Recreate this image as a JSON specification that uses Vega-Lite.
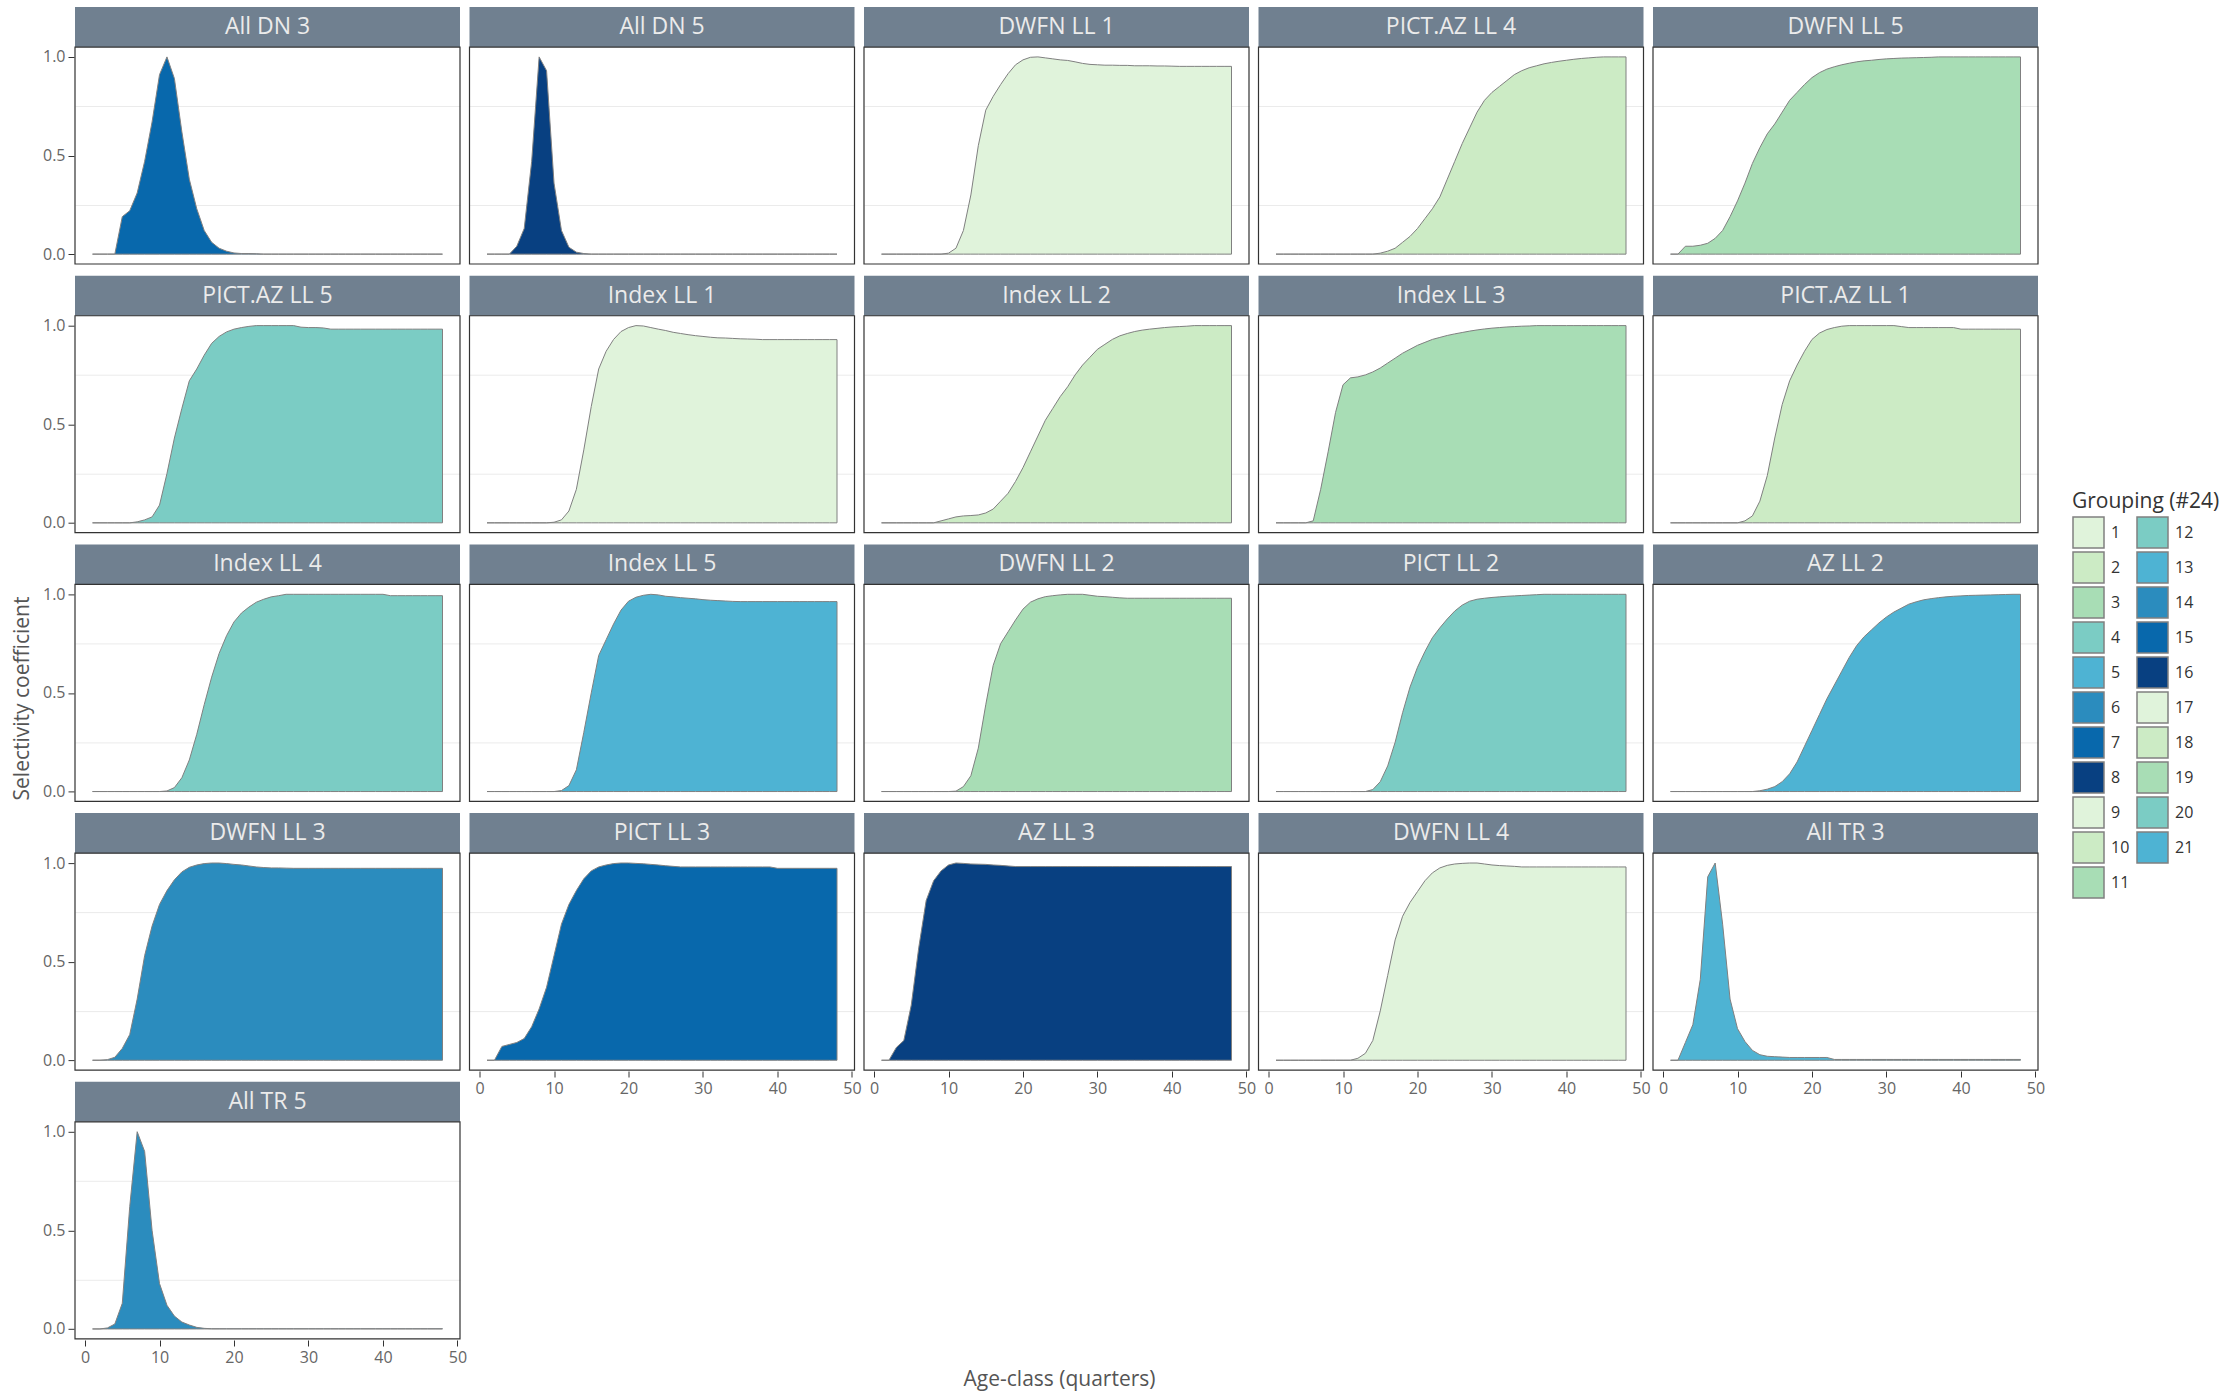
{
"$schema": "https://vega.github.io/schema/vega-lite/v6.json",
"background": "white",
"padding": {"left": 11, "top": 7, "right": 0, "bottom": 4},
"config": {"view": {"stroke": null}, "font": "Open Sans",
  "header": {"labels": false, "title": null, "labelFontSize": 0, "labelPadding": 0},
  "headerFacet": {"labels": false, "title": null, "labelFontSize": 0, "labelPadding": 0},
  "axis": {"labelFont": "Open Sans", "titleFont": "Open Sans", "labelFontSize": 16, "titleFontSize": 21, "titleFontWeight": "normal", "labelColor": "#666666", "titleColor": "#555555", "domain": false, "tickSize": 6, "tickWidth": 1, "labelPadding": 3, "gridWidth": 1}},
"title": {"text": "Selectivity coefficient", "orient": "left", "anchor": "middle", "font": "Open Sans", "fontSize": 21, "fontWeight": "normal", "color": "#555555", "offset": 10},
"datasets": {"panels": [
{"p":1,"panel":"All DN 3","group":"7"},{"p":2,"panel":"All DN 5","group":"8"},{"p":3,"panel":"DWFN LL 1","group":"1"},{"p":4,"panel":"PICT.AZ LL 4","group":"2"},{"p":5,"panel":"DWFN LL 5","group":"3"},
{"p":6,"panel":"PICT.AZ LL 5","group":"4"},{"p":7,"panel":"Index LL 1","group":"9"},{"p":8,"panel":"Index LL 2","group":"10"},{"p":9,"panel":"Index LL 3","group":"11"},{"p":10,"panel":"PICT.AZ LL 1","group":"18"},
{"p":11,"panel":"Index LL 4","group":"12"},{"p":12,"panel":"Index LL 5","group":"5"},{"p":13,"panel":"DWFN LL 2","group":"19"},{"p":14,"panel":"PICT LL 2","group":"20"},{"p":15,"panel":"AZ LL 2","group":"13"},
{"p":16,"panel":"DWFN LL 3","group":"6"},{"p":17,"panel":"PICT LL 3","group":"15"},{"p":18,"panel":"AZ LL 3","group":"16"},{"p":19,"panel":"DWFN LL 4","group":"17"},{"p":20,"panel":"All TR 3","group":"21"},
{"p":21,"panel":"All TR 5","group":"14"}]},
"data": {"values": [
{"p":1,"a":1,"s":0},{"p":1,"a":2,"s":0},{"p":1,"a":3,"s":0},{"p":1,"a":4,"s":0},{"p":1,"a":5,"s":0.19},{"p":1,"a":6,"s":0.22},{"p":1,"a":7,"s":0.31},{"p":1,"a":8,"s":0.47},{"p":1,"a":9,"s":0.67},{"p":1,"a":10,"s":0.91},{"p":1,"a":11,"s":1},{"p":1,"a":12,"s":0.89},{"p":1,"a":13,"s":0.62},{"p":1,"a":14,"s":0.38},{"p":1,"a":15,"s":0.23},{"p":1,"a":16,"s":0.12},{"p":1,"a":17,"s":0.06},{"p":1,"a":18,"s":0.03},{"p":1,"a":19,"s":0.015},{"p":1,"a":20,"s":0.006},{"p":1,"a":21,"s":0.003},{"p":1,"a":22,"s":0.003},{"p":1,"a":23,"s":0.002},{"p":1,"a":24,"s":0},{"p":1,"a":25,"s":0},{"p":1,"a":26,"s":0},{"p":1,"a":27,"s":0},{"p":1,"a":28,"s":0},{"p":1,"a":29,"s":0},{"p":1,"a":30,"s":0},{"p":1,"a":31,"s":0},{"p":1,"a":32,"s":0},{"p":1,"a":33,"s":0},{"p":1,"a":34,"s":0},{"p":1,"a":35,"s":0},{"p":1,"a":36,"s":0},{"p":1,"a":37,"s":0},{"p":1,"a":38,"s":0},{"p":1,"a":39,"s":0},{"p":1,"a":40,"s":0},{"p":1,"a":41,"s":0},{"p":1,"a":42,"s":0},{"p":1,"a":43,"s":0},{"p":1,"a":44,"s":0},{"p":1,"a":45,"s":0},{"p":1,"a":46,"s":0},{"p":1,"a":47,"s":0},{"p":1,"a":48,"s":0},
{"p":2,"a":1,"s":0},{"p":2,"a":2,"s":0},{"p":2,"a":3,"s":0},{"p":2,"a":4,"s":0},{"p":2,"a":5,"s":0.04},{"p":2,"a":6,"s":0.13},{"p":2,"a":7,"s":0.47},{"p":2,"a":8,"s":1},{"p":2,"a":9,"s":0.93},{"p":2,"a":10,"s":0.36},{"p":2,"a":11,"s":0.12},{"p":2,"a":12,"s":0.035},{"p":2,"a":13,"s":0.01},{"p":2,"a":14,"s":0.003},{"p":2,"a":15,"s":0},{"p":2,"a":16,"s":0},{"p":2,"a":17,"s":0},{"p":2,"a":18,"s":0},{"p":2,"a":19,"s":0},{"p":2,"a":20,"s":0},{"p":2,"a":21,"s":0},{"p":2,"a":22,"s":0},{"p":2,"a":23,"s":0},{"p":2,"a":24,"s":0},{"p":2,"a":25,"s":0},{"p":2,"a":26,"s":0},{"p":2,"a":27,"s":0},{"p":2,"a":28,"s":0},{"p":2,"a":29,"s":0},{"p":2,"a":30,"s":0},{"p":2,"a":31,"s":0},{"p":2,"a":32,"s":0},{"p":2,"a":33,"s":0},{"p":2,"a":34,"s":0},{"p":2,"a":35,"s":0},{"p":2,"a":36,"s":0},{"p":2,"a":37,"s":0},{"p":2,"a":38,"s":0},{"p":2,"a":39,"s":0},{"p":2,"a":40,"s":0},{"p":2,"a":41,"s":0},{"p":2,"a":42,"s":0},{"p":2,"a":43,"s":0},{"p":2,"a":44,"s":0},{"p":2,"a":45,"s":0},{"p":2,"a":46,"s":0},{"p":2,"a":47,"s":0},{"p":2,"a":48,"s":0},
{"p":3,"a":1,"s":0},{"p":3,"a":2,"s":0},{"p":3,"a":3,"s":0},{"p":3,"a":4,"s":0},{"p":3,"a":5,"s":0},{"p":3,"a":6,"s":0},{"p":3,"a":7,"s":0},{"p":3,"a":8,"s":0},{"p":3,"a":9,"s":0},{"p":3,"a":10,"s":0.005},{"p":3,"a":11,"s":0.03},{"p":3,"a":12,"s":0.12},{"p":3,"a":13,"s":0.3},{"p":3,"a":14,"s":0.55},{"p":3,"a":15,"s":0.73},{"p":3,"a":16,"s":0.8},{"p":3,"a":17,"s":0.86},{"p":3,"a":18,"s":0.915},{"p":3,"a":19,"s":0.96},{"p":3,"a":20,"s":0.985},{"p":3,"a":21,"s":0.998},{"p":3,"a":22,"s":1},{"p":3,"a":23,"s":0.995},{"p":3,"a":24,"s":0.99},{"p":3,"a":25,"s":0.985},{"p":3,"a":26,"s":0.982},{"p":3,"a":27,"s":0.975},{"p":3,"a":28,"s":0.967},{"p":3,"a":29,"s":0.962},{"p":3,"a":30,"s":0.96},{"p":3,"a":31,"s":0.958},{"p":3,"a":32,"s":0.958},{"p":3,"a":33,"s":0.957},{"p":3,"a":34,"s":0.957},{"p":3,"a":35,"s":0.955},{"p":3,"a":36,"s":0.955},{"p":3,"a":37,"s":0.955},{"p":3,"a":38,"s":0.954},{"p":3,"a":39,"s":0.954},{"p":3,"a":40,"s":0.953},{"p":3,"a":41,"s":0.952},{"p":3,"a":42,"s":0.952},{"p":3,"a":43,"s":0.952},{"p":3,"a":44,"s":0.952},{"p":3,"a":45,"s":0.952},{"p":3,"a":46,"s":0.952},{"p":3,"a":47,"s":0.952},{"p":3,"a":48,"s":0.952},
{"p":4,"a":1,"s":0},{"p":4,"a":2,"s":0},{"p":4,"a":3,"s":0},{"p":4,"a":4,"s":0},{"p":4,"a":5,"s":0},{"p":4,"a":6,"s":0},{"p":4,"a":7,"s":0},{"p":4,"a":8,"s":0},{"p":4,"a":9,"s":0},{"p":4,"a":10,"s":0},{"p":4,"a":11,"s":0},{"p":4,"a":12,"s":0},{"p":4,"a":13,"s":0},{"p":4,"a":14,"s":0},{"p":4,"a":15,"s":0.005},{"p":4,"a":16,"s":0.015},{"p":4,"a":17,"s":0.03},{"p":4,"a":18,"s":0.06},{"p":4,"a":19,"s":0.09},{"p":4,"a":20,"s":0.13},{"p":4,"a":21,"s":0.18},{"p":4,"a":22,"s":0.23},{"p":4,"a":23,"s":0.29},{"p":4,"a":24,"s":0.38},{"p":4,"a":25,"s":0.47},{"p":4,"a":26,"s":0.56},{"p":4,"a":27,"s":0.64},{"p":4,"a":28,"s":0.72},{"p":4,"a":29,"s":0.78},{"p":4,"a":30,"s":0.82},{"p":4,"a":31,"s":0.85},{"p":4,"a":32,"s":0.88},{"p":4,"a":33,"s":0.91},{"p":4,"a":34,"s":0.93},{"p":4,"a":35,"s":0.945},{"p":4,"a":36,"s":0.955},{"p":4,"a":37,"s":0.965},{"p":4,"a":38,"s":0.972},{"p":4,"a":39,"s":0.978},{"p":4,"a":40,"s":0.983},{"p":4,"a":41,"s":0.988},{"p":4,"a":42,"s":0.992},{"p":4,"a":43,"s":0.995},{"p":4,"a":44,"s":0.998},{"p":4,"a":45,"s":1},{"p":4,"a":46,"s":1},{"p":4,"a":47,"s":1},{"p":4,"a":48,"s":1},
{"p":5,"a":1,"s":0},{"p":5,"a":2,"s":0},{"p":5,"a":3,"s":0.04},{"p":5,"a":4,"s":0.04},{"p":5,"a":5,"s":0.045},{"p":5,"a":6,"s":0.055},{"p":5,"a":7,"s":0.08},{"p":5,"a":8,"s":0.12},{"p":5,"a":9,"s":0.19},{"p":5,"a":10,"s":0.27},{"p":5,"a":11,"s":0.36},{"p":5,"a":12,"s":0.46},{"p":5,"a":13,"s":0.54},{"p":5,"a":14,"s":0.61},{"p":5,"a":15,"s":0.66},{"p":5,"a":16,"s":0.72},{"p":5,"a":17,"s":0.78},{"p":5,"a":18,"s":0.82},{"p":5,"a":19,"s":0.86},{"p":5,"a":20,"s":0.895},{"p":5,"a":21,"s":0.92},{"p":5,"a":22,"s":0.938},{"p":5,"a":23,"s":0.95},{"p":5,"a":24,"s":0.96},{"p":5,"a":25,"s":0.968},{"p":5,"a":26,"s":0.975},{"p":5,"a":27,"s":0.98},{"p":5,"a":28,"s":0.983},{"p":5,"a":29,"s":0.987},{"p":5,"a":30,"s":0.99},{"p":5,"a":31,"s":0.992},{"p":5,"a":32,"s":0.994},{"p":5,"a":33,"s":0.995},{"p":5,"a":34,"s":0.996},{"p":5,"a":35,"s":0.997},{"p":5,"a":36,"s":0.998},{"p":5,"a":37,"s":1},{"p":5,"a":38,"s":1},{"p":5,"a":39,"s":1},{"p":5,"a":40,"s":1},{"p":5,"a":41,"s":1},{"p":5,"a":42,"s":1},{"p":5,"a":43,"s":1},{"p":5,"a":44,"s":1},{"p":5,"a":45,"s":1},{"p":5,"a":46,"s":1},{"p":5,"a":47,"s":1},{"p":5,"a":48,"s":1},
{"p":6,"a":1,"s":0},{"p":6,"a":2,"s":0},{"p":6,"a":3,"s":0},{"p":6,"a":4,"s":0},{"p":6,"a":5,"s":0},{"p":6,"a":6,"s":0},{"p":6,"a":7,"s":0.005},{"p":6,"a":8,"s":0.015},{"p":6,"a":9,"s":0.03},{"p":6,"a":10,"s":0.09},{"p":6,"a":11,"s":0.25},{"p":6,"a":12,"s":0.43},{"p":6,"a":13,"s":0.58},{"p":6,"a":14,"s":0.72},{"p":6,"a":15,"s":0.78},{"p":6,"a":16,"s":0.85},{"p":6,"a":17,"s":0.91},{"p":6,"a":18,"s":0.945},{"p":6,"a":19,"s":0.968},{"p":6,"a":20,"s":0.982},{"p":6,"a":21,"s":0.99},{"p":6,"a":22,"s":0.996},{"p":6,"a":23,"s":1},{"p":6,"a":24,"s":1},{"p":6,"a":25,"s":1},{"p":6,"a":26,"s":1},{"p":6,"a":27,"s":1},{"p":6,"a":28,"s":1},{"p":6,"a":29,"s":0.992},{"p":6,"a":30,"s":0.99},{"p":6,"a":31,"s":0.99},{"p":6,"a":32,"s":0.988},{"p":6,"a":33,"s":0.982},{"p":6,"a":34,"s":0.982},{"p":6,"a":35,"s":0.982},{"p":6,"a":36,"s":0.982},{"p":6,"a":37,"s":0.982},{"p":6,"a":38,"s":0.982},{"p":6,"a":39,"s":0.982},{"p":6,"a":40,"s":0.982},{"p":6,"a":41,"s":0.982},{"p":6,"a":42,"s":0.982},{"p":6,"a":43,"s":0.982},{"p":6,"a":44,"s":0.982},{"p":6,"a":45,"s":0.982},{"p":6,"a":46,"s":0.982},{"p":6,"a":47,"s":0.982},{"p":6,"a":48,"s":0.982},
{"p":7,"a":1,"s":0},{"p":7,"a":2,"s":0},{"p":7,"a":3,"s":0},{"p":7,"a":4,"s":0},{"p":7,"a":5,"s":0},{"p":7,"a":6,"s":0},{"p":7,"a":7,"s":0},{"p":7,"a":8,"s":0},{"p":7,"a":9,"s":0},{"p":7,"a":10,"s":0.003},{"p":7,"a":11,"s":0.015},{"p":7,"a":12,"s":0.06},{"p":7,"a":13,"s":0.17},{"p":7,"a":14,"s":0.37},{"p":7,"a":15,"s":0.59},{"p":7,"a":16,"s":0.78},{"p":7,"a":17,"s":0.87},{"p":7,"a":18,"s":0.93},{"p":7,"a":19,"s":0.97},{"p":7,"a":20,"s":0.99},{"p":7,"a":21,"s":1},{"p":7,"a":22,"s":0.998},{"p":7,"a":23,"s":0.99},{"p":7,"a":24,"s":0.982},{"p":7,"a":25,"s":0.975},{"p":7,"a":26,"s":0.966},{"p":7,"a":27,"s":0.96},{"p":7,"a":28,"s":0.954},{"p":7,"a":29,"s":0.949},{"p":7,"a":30,"s":0.945},{"p":7,"a":31,"s":0.941},{"p":7,"a":32,"s":0.938},{"p":7,"a":33,"s":0.937},{"p":7,"a":34,"s":0.935},{"p":7,"a":35,"s":0.933},{"p":7,"a":36,"s":0.932},{"p":7,"a":37,"s":0.931},{"p":7,"a":38,"s":0.929},{"p":7,"a":39,"s":0.929},{"p":7,"a":40,"s":0.929},{"p":7,"a":41,"s":0.929},{"p":7,"a":42,"s":0.929},{"p":7,"a":43,"s":0.929},{"p":7,"a":44,"s":0.929},{"p":7,"a":45,"s":0.929},{"p":7,"a":46,"s":0.929},{"p":7,"a":47,"s":0.929},{"p":7,"a":48,"s":0.929},
{"p":8,"a":1,"s":0},{"p":8,"a":2,"s":0},{"p":8,"a":3,"s":0},{"p":8,"a":4,"s":0},{"p":8,"a":5,"s":0},{"p":8,"a":6,"s":0},{"p":8,"a":7,"s":0},{"p":8,"a":8,"s":0},{"p":8,"a":9,"s":0.01},{"p":8,"a":10,"s":0.02},{"p":8,"a":11,"s":0.03},{"p":8,"a":12,"s":0.035},{"p":8,"a":13,"s":0.037},{"p":8,"a":14,"s":0.04},{"p":8,"a":15,"s":0.05},{"p":8,"a":16,"s":0.07},{"p":8,"a":17,"s":0.11},{"p":8,"a":18,"s":0.15},{"p":8,"a":19,"s":0.21},{"p":8,"a":20,"s":0.28},{"p":8,"a":21,"s":0.36},{"p":8,"a":22,"s":0.44},{"p":8,"a":23,"s":0.52},{"p":8,"a":24,"s":0.58},{"p":8,"a":25,"s":0.64},{"p":8,"a":26,"s":0.69},{"p":8,"a":27,"s":0.75},{"p":8,"a":28,"s":0.8},{"p":8,"a":29,"s":0.84},{"p":8,"a":30,"s":0.88},{"p":8,"a":31,"s":0.905},{"p":8,"a":32,"s":0.93},{"p":8,"a":33,"s":0.948},{"p":8,"a":34,"s":0.96},{"p":8,"a":35,"s":0.97},{"p":8,"a":36,"s":0.977},{"p":8,"a":37,"s":0.982},{"p":8,"a":38,"s":0.986},{"p":8,"a":39,"s":0.99},{"p":8,"a":40,"s":0.993},{"p":8,"a":41,"s":0.995},{"p":8,"a":42,"s":0.997},{"p":8,"a":43,"s":1},{"p":8,"a":44,"s":1},{"p":8,"a":45,"s":1},{"p":8,"a":46,"s":1},{"p":8,"a":47,"s":1},{"p":8,"a":48,"s":1},
{"p":9,"a":1,"s":0},{"p":9,"a":2,"s":0},{"p":9,"a":3,"s":0},{"p":9,"a":4,"s":0},{"p":9,"a":5,"s":0},{"p":9,"a":6,"s":0.01},{"p":9,"a":7,"s":0.17},{"p":9,"a":8,"s":0.36},{"p":9,"a":9,"s":0.56},{"p":9,"a":10,"s":0.7},{"p":9,"a":11,"s":0.735},{"p":9,"a":12,"s":0.74},{"p":9,"a":13,"s":0.75},{"p":9,"a":14,"s":0.765},{"p":9,"a":15,"s":0.785},{"p":9,"a":16,"s":0.81},{"p":9,"a":17,"s":0.835},{"p":9,"a":18,"s":0.86},{"p":9,"a":19,"s":0.88},{"p":9,"a":20,"s":0.9},{"p":9,"a":21,"s":0.915},{"p":9,"a":22,"s":0.93},{"p":9,"a":23,"s":0.94},{"p":9,"a":24,"s":0.95},{"p":9,"a":25,"s":0.958},{"p":9,"a":26,"s":0.965},{"p":9,"a":27,"s":0.972},{"p":9,"a":28,"s":0.978},{"p":9,"a":29,"s":0.983},{"p":9,"a":30,"s":0.987},{"p":9,"a":31,"s":0.99},{"p":9,"a":32,"s":0.993},{"p":9,"a":33,"s":0.995},{"p":9,"a":34,"s":0.997},{"p":9,"a":35,"s":0.998},{"p":9,"a":36,"s":1},{"p":9,"a":37,"s":1},{"p":9,"a":38,"s":1},{"p":9,"a":39,"s":1},{"p":9,"a":40,"s":1},{"p":9,"a":41,"s":1},{"p":9,"a":42,"s":1},{"p":9,"a":43,"s":1},{"p":9,"a":44,"s":1},{"p":9,"a":45,"s":1},{"p":9,"a":46,"s":1},{"p":9,"a":47,"s":1},{"p":9,"a":48,"s":1},
{"p":10,"a":1,"s":0},{"p":10,"a":2,"s":0},{"p":10,"a":3,"s":0},{"p":10,"a":4,"s":0},{"p":10,"a":5,"s":0},{"p":10,"a":6,"s":0},{"p":10,"a":7,"s":0},{"p":10,"a":8,"s":0},{"p":10,"a":9,"s":0},{"p":10,"a":10,"s":0},{"p":10,"a":11,"s":0.01},{"p":10,"a":12,"s":0.035},{"p":10,"a":13,"s":0.11},{"p":10,"a":14,"s":0.24},{"p":10,"a":15,"s":0.43},{"p":10,"a":16,"s":0.6},{"p":10,"a":17,"s":0.72},{"p":10,"a":18,"s":0.8},{"p":10,"a":19,"s":0.87},{"p":10,"a":20,"s":0.93},{"p":10,"a":21,"s":0.962},{"p":10,"a":22,"s":0.98},{"p":10,"a":23,"s":0.99},{"p":10,"a":24,"s":0.997},{"p":10,"a":25,"s":1},{"p":10,"a":26,"s":1},{"p":10,"a":27,"s":1},{"p":10,"a":28,"s":1},{"p":10,"a":29,"s":1},{"p":10,"a":30,"s":1},{"p":10,"a":31,"s":1},{"p":10,"a":32,"s":0.995},{"p":10,"a":33,"s":0.99},{"p":10,"a":34,"s":0.99},{"p":10,"a":35,"s":0.99},{"p":10,"a":36,"s":0.99},{"p":10,"a":37,"s":0.99},{"p":10,"a":38,"s":0.99},{"p":10,"a":39,"s":0.99},{"p":10,"a":40,"s":0.982},{"p":10,"a":41,"s":0.982},{"p":10,"a":42,"s":0.982},{"p":10,"a":43,"s":0.982},{"p":10,"a":44,"s":0.982},{"p":10,"a":45,"s":0.982},{"p":10,"a":46,"s":0.982},{"p":10,"a":47,"s":0.982},{"p":10,"a":48,"s":0.982},
{"p":11,"a":1,"s":0},{"p":11,"a":2,"s":0},{"p":11,"a":3,"s":0},{"p":11,"a":4,"s":0},{"p":11,"a":5,"s":0},{"p":11,"a":6,"s":0},{"p":11,"a":7,"s":0},{"p":11,"a":8,"s":0},{"p":11,"a":9,"s":0},{"p":11,"a":10,"s":0},{"p":11,"a":11,"s":0.003},{"p":11,"a":12,"s":0.02},{"p":11,"a":13,"s":0.07},{"p":11,"a":14,"s":0.16},{"p":11,"a":15,"s":0.29},{"p":11,"a":16,"s":0.44},{"p":11,"a":17,"s":0.58},{"p":11,"a":18,"s":0.7},{"p":11,"a":19,"s":0.79},{"p":11,"a":20,"s":0.86},{"p":11,"a":21,"s":0.905},{"p":11,"a":22,"s":0.935},{"p":11,"a":23,"s":0.96},{"p":11,"a":24,"s":0.975},{"p":11,"a":25,"s":0.987},{"p":11,"a":26,"s":0.993},{"p":11,"a":27,"s":1},{"p":11,"a":28,"s":1},{"p":11,"a":29,"s":1},{"p":11,"a":30,"s":1},{"p":11,"a":31,"s":1},{"p":11,"a":32,"s":1},{"p":11,"a":33,"s":1},{"p":11,"a":34,"s":1},{"p":11,"a":35,"s":1},{"p":11,"a":36,"s":1},{"p":11,"a":37,"s":1},{"p":11,"a":38,"s":1},{"p":11,"a":39,"s":1},{"p":11,"a":40,"s":1},{"p":11,"a":41,"s":0.993},{"p":11,"a":42,"s":0.993},{"p":11,"a":43,"s":0.993},{"p":11,"a":44,"s":0.993},{"p":11,"a":45,"s":0.993},{"p":11,"a":46,"s":0.993},{"p":11,"a":47,"s":0.993},{"p":11,"a":48,"s":0.993},
{"p":12,"a":1,"s":0},{"p":12,"a":2,"s":0},{"p":12,"a":3,"s":0},{"p":12,"a":4,"s":0},{"p":12,"a":5,"s":0},{"p":12,"a":6,"s":0},{"p":12,"a":7,"s":0},{"p":12,"a":8,"s":0},{"p":12,"a":9,"s":0},{"p":12,"a":10,"s":0},{"p":12,"a":11,"s":0.005},{"p":12,"a":12,"s":0.03},{"p":12,"a":13,"s":0.11},{"p":12,"a":14,"s":0.3},{"p":12,"a":15,"s":0.5},{"p":12,"a":16,"s":0.69},{"p":12,"a":17,"s":0.77},{"p":12,"a":18,"s":0.85},{"p":12,"a":19,"s":0.92},{"p":12,"a":20,"s":0.965},{"p":12,"a":21,"s":0.985},{"p":12,"a":22,"s":0.995},{"p":12,"a":23,"s":1},{"p":12,"a":24,"s":0.997},{"p":12,"a":25,"s":0.99},{"p":12,"a":26,"s":0.987},{"p":12,"a":27,"s":0.983},{"p":12,"a":28,"s":0.98},{"p":12,"a":29,"s":0.977},{"p":12,"a":30,"s":0.973},{"p":12,"a":31,"s":0.97},{"p":12,"a":32,"s":0.968},{"p":12,"a":33,"s":0.966},{"p":12,"a":34,"s":0.964},{"p":12,"a":35,"s":0.963},{"p":12,"a":36,"s":0.963},{"p":12,"a":37,"s":0.963},{"p":12,"a":38,"s":0.963},{"p":12,"a":39,"s":0.963},{"p":12,"a":40,"s":0.963},{"p":12,"a":41,"s":0.963},{"p":12,"a":42,"s":0.963},{"p":12,"a":43,"s":0.963},{"p":12,"a":44,"s":0.963},{"p":12,"a":45,"s":0.963},{"p":12,"a":46,"s":0.963},{"p":12,"a":47,"s":0.963},{"p":12,"a":48,"s":0.963},
{"p":13,"a":1,"s":0},{"p":13,"a":2,"s":0},{"p":13,"a":3,"s":0},{"p":13,"a":4,"s":0},{"p":13,"a":5,"s":0},{"p":13,"a":6,"s":0},{"p":13,"a":7,"s":0},{"p":13,"a":8,"s":0},{"p":13,"a":9,"s":0},{"p":13,"a":10,"s":0},{"p":13,"a":11,"s":0.002},{"p":13,"a":12,"s":0.025},{"p":13,"a":13,"s":0.08},{"p":13,"a":14,"s":0.22},{"p":13,"a":15,"s":0.44},{"p":13,"a":16,"s":0.64},{"p":13,"a":17,"s":0.75},{"p":13,"a":18,"s":0.81},{"p":13,"a":19,"s":0.87},{"p":13,"a":20,"s":0.925},{"p":13,"a":21,"s":0.96},{"p":13,"a":22,"s":0.977},{"p":13,"a":23,"s":0.988},{"p":13,"a":24,"s":0.993},{"p":13,"a":25,"s":0.997},{"p":13,"a":26,"s":1},{"p":13,"a":27,"s":1},{"p":13,"a":28,"s":1},{"p":13,"a":29,"s":0.995},{"p":13,"a":30,"s":0.99},{"p":13,"a":31,"s":0.988},{"p":13,"a":32,"s":0.985},{"p":13,"a":33,"s":0.982},{"p":13,"a":34,"s":0.98},{"p":13,"a":35,"s":0.98},{"p":13,"a":36,"s":0.98},{"p":13,"a":37,"s":0.98},{"p":13,"a":38,"s":0.98},{"p":13,"a":39,"s":0.98},{"p":13,"a":40,"s":0.98},{"p":13,"a":41,"s":0.98},{"p":13,"a":42,"s":0.98},{"p":13,"a":43,"s":0.98},{"p":13,"a":44,"s":0.98},{"p":13,"a":45,"s":0.98},{"p":13,"a":46,"s":0.98},{"p":13,"a":47,"s":0.98},{"p":13,"a":48,"s":0.98},
{"p":14,"a":1,"s":0},{"p":14,"a":2,"s":0},{"p":14,"a":3,"s":0},{"p":14,"a":4,"s":0},{"p":14,"a":5,"s":0},{"p":14,"a":6,"s":0},{"p":14,"a":7,"s":0},{"p":14,"a":8,"s":0},{"p":14,"a":9,"s":0},{"p":14,"a":10,"s":0},{"p":14,"a":11,"s":0},{"p":14,"a":12,"s":0},{"p":14,"a":13,"s":0},{"p":14,"a":14,"s":0.01},{"p":14,"a":15,"s":0.05},{"p":14,"a":16,"s":0.13},{"p":14,"a":17,"s":0.25},{"p":14,"a":18,"s":0.4},{"p":14,"a":19,"s":0.53},{"p":14,"a":20,"s":0.63},{"p":14,"a":21,"s":0.71},{"p":14,"a":22,"s":0.78},{"p":14,"a":23,"s":0.83},{"p":14,"a":24,"s":0.875},{"p":14,"a":25,"s":0.915},{"p":14,"a":26,"s":0.945},{"p":14,"a":27,"s":0.965},{"p":14,"a":28,"s":0.975},{"p":14,"a":29,"s":0.98},{"p":14,"a":30,"s":0.984},{"p":14,"a":31,"s":0.987},{"p":14,"a":32,"s":0.99},{"p":14,"a":33,"s":0.992},{"p":14,"a":34,"s":0.994},{"p":14,"a":35,"s":0.996},{"p":14,"a":36,"s":0.998},{"p":14,"a":37,"s":1},{"p":14,"a":38,"s":1},{"p":14,"a":39,"s":1},{"p":14,"a":40,"s":1},{"p":14,"a":41,"s":1},{"p":14,"a":42,"s":1},{"p":14,"a":43,"s":1},{"p":14,"a":44,"s":1},{"p":14,"a":45,"s":1},{"p":14,"a":46,"s":1},{"p":14,"a":47,"s":1},{"p":14,"a":48,"s":1},
{"p":15,"a":1,"s":0},{"p":15,"a":2,"s":0},{"p":15,"a":3,"s":0},{"p":15,"a":4,"s":0},{"p":15,"a":5,"s":0},{"p":15,"a":6,"s":0},{"p":15,"a":7,"s":0},{"p":15,"a":8,"s":0},{"p":15,"a":9,"s":0},{"p":15,"a":10,"s":0},{"p":15,"a":11,"s":0},{"p":15,"a":12,"s":0},{"p":15,"a":13,"s":0.004},{"p":15,"a":14,"s":0.012},{"p":15,"a":15,"s":0.025},{"p":15,"a":16,"s":0.05},{"p":15,"a":17,"s":0.09},{"p":15,"a":18,"s":0.15},{"p":15,"a":19,"s":0.23},{"p":15,"a":20,"s":0.31},{"p":15,"a":21,"s":0.39},{"p":15,"a":22,"s":0.47},{"p":15,"a":23,"s":0.54},{"p":15,"a":24,"s":0.61},{"p":15,"a":25,"s":0.68},{"p":15,"a":26,"s":0.74},{"p":15,"a":27,"s":0.785},{"p":15,"a":28,"s":0.82},{"p":15,"a":29,"s":0.855},{"p":15,"a":30,"s":0.885},{"p":15,"a":31,"s":0.91},{"p":15,"a":32,"s":0.93},{"p":15,"a":33,"s":0.95},{"p":15,"a":34,"s":0.962},{"p":15,"a":35,"s":0.972},{"p":15,"a":36,"s":0.978},{"p":15,"a":37,"s":0.983},{"p":15,"a":38,"s":0.987},{"p":15,"a":39,"s":0.99},{"p":15,"a":40,"s":0.992},{"p":15,"a":41,"s":0.994},{"p":15,"a":42,"s":0.995},{"p":15,"a":43,"s":0.996},{"p":15,"a":44,"s":0.997},{"p":15,"a":45,"s":0.998},{"p":15,"a":46,"s":0.999},{"p":15,"a":47,"s":1},{"p":15,"a":48,"s":1},
{"p":16,"a":1,"s":0},{"p":16,"a":2,"s":0},{"p":16,"a":3,"s":0.003},{"p":16,"a":4,"s":0.015},{"p":16,"a":5,"s":0.06},{"p":16,"a":6,"s":0.13},{"p":16,"a":7,"s":0.31},{"p":16,"a":8,"s":0.53},{"p":16,"a":9,"s":0.68},{"p":16,"a":10,"s":0.79},{"p":16,"a":11,"s":0.86},{"p":16,"a":12,"s":0.915},{"p":16,"a":13,"s":0.955},{"p":16,"a":14,"s":0.978},{"p":16,"a":15,"s":0.99},{"p":16,"a":16,"s":0.997},{"p":16,"a":17,"s":1},{"p":16,"a":18,"s":1},{"p":16,"a":19,"s":0.997},{"p":16,"a":20,"s":0.993},{"p":16,"a":21,"s":0.99},{"p":16,"a":22,"s":0.985},{"p":16,"a":23,"s":0.98},{"p":16,"a":24,"s":0.977},{"p":16,"a":25,"s":0.975},{"p":16,"a":26,"s":0.975},{"p":16,"a":27,"s":0.974},{"p":16,"a":28,"s":0.973},{"p":16,"a":29,"s":0.973},{"p":16,"a":30,"s":0.973},{"p":16,"a":31,"s":0.973},{"p":16,"a":32,"s":0.973},{"p":16,"a":33,"s":0.973},{"p":16,"a":34,"s":0.973},{"p":16,"a":35,"s":0.973},{"p":16,"a":36,"s":0.973},{"p":16,"a":37,"s":0.973},{"p":16,"a":38,"s":0.973},{"p":16,"a":39,"s":0.973},{"p":16,"a":40,"s":0.973},{"p":16,"a":41,"s":0.973},{"p":16,"a":42,"s":0.973},{"p":16,"a":43,"s":0.973},{"p":16,"a":44,"s":0.973},{"p":16,"a":45,"s":0.973},{"p":16,"a":46,"s":0.973},{"p":16,"a":47,"s":0.973},{"p":16,"a":48,"s":0.973},
{"p":17,"a":1,"s":0},{"p":17,"a":2,"s":0},{"p":17,"a":3,"s":0.07},{"p":17,"a":4,"s":0.08},{"p":17,"a":5,"s":0.09},{"p":17,"a":6,"s":0.11},{"p":17,"a":7,"s":0.17},{"p":17,"a":8,"s":0.26},{"p":17,"a":9,"s":0.37},{"p":17,"a":10,"s":0.53},{"p":17,"a":11,"s":0.69},{"p":17,"a":12,"s":0.79},{"p":17,"a":13,"s":0.86},{"p":17,"a":14,"s":0.92},{"p":17,"a":15,"s":0.96},{"p":17,"a":16,"s":0.98},{"p":17,"a":17,"s":0.99},{"p":17,"a":18,"s":0.997},{"p":17,"a":19,"s":1},{"p":17,"a":20,"s":1},{"p":17,"a":21,"s":0.998},{"p":17,"a":22,"s":0.996},{"p":17,"a":23,"s":0.993},{"p":17,"a":24,"s":0.99},{"p":17,"a":25,"s":0.986},{"p":17,"a":26,"s":0.983},{"p":17,"a":27,"s":0.98},{"p":17,"a":28,"s":0.98},{"p":17,"a":29,"s":0.98},{"p":17,"a":30,"s":0.98},{"p":17,"a":31,"s":0.98},{"p":17,"a":32,"s":0.98},{"p":17,"a":33,"s":0.98},{"p":17,"a":34,"s":0.98},{"p":17,"a":35,"s":0.98},{"p":17,"a":36,"s":0.98},{"p":17,"a":37,"s":0.98},{"p":17,"a":38,"s":0.98},{"p":17,"a":39,"s":0.98},{"p":17,"a":40,"s":0.973},{"p":17,"a":41,"s":0.973},{"p":17,"a":42,"s":0.973},{"p":17,"a":43,"s":0.973},{"p":17,"a":44,"s":0.973},{"p":17,"a":45,"s":0.973},{"p":17,"a":46,"s":0.973},{"p":17,"a":47,"s":0.973},{"p":17,"a":48,"s":0.973},
{"p":18,"a":1,"s":0},{"p":18,"a":2,"s":0},{"p":18,"a":3,"s":0.065},{"p":18,"a":4,"s":0.1},{"p":18,"a":5,"s":0.28},{"p":18,"a":6,"s":0.57},{"p":18,"a":7,"s":0.81},{"p":18,"a":8,"s":0.91},{"p":18,"a":9,"s":0.96},{"p":18,"a":10,"s":0.99},{"p":18,"a":11,"s":1},{"p":18,"a":12,"s":0.998},{"p":18,"a":13,"s":0.995},{"p":18,"a":14,"s":0.994},{"p":18,"a":15,"s":0.993},{"p":18,"a":16,"s":0.99},{"p":18,"a":17,"s":0.988},{"p":18,"a":18,"s":0.985},{"p":18,"a":19,"s":0.982},{"p":18,"a":20,"s":0.982},{"p":18,"a":21,"s":0.982},{"p":18,"a":22,"s":0.982},{"p":18,"a":23,"s":0.982},{"p":18,"a":24,"s":0.982},{"p":18,"a":25,"s":0.982},{"p":18,"a":26,"s":0.982},{"p":18,"a":27,"s":0.982},{"p":18,"a":28,"s":0.982},{"p":18,"a":29,"s":0.982},{"p":18,"a":30,"s":0.982},{"p":18,"a":31,"s":0.982},{"p":18,"a":32,"s":0.982},{"p":18,"a":33,"s":0.982},{"p":18,"a":34,"s":0.982},{"p":18,"a":35,"s":0.982},{"p":18,"a":36,"s":0.982},{"p":18,"a":37,"s":0.982},{"p":18,"a":38,"s":0.982},{"p":18,"a":39,"s":0.982},{"p":18,"a":40,"s":0.982},{"p":18,"a":41,"s":0.982},{"p":18,"a":42,"s":0.982},{"p":18,"a":43,"s":0.982},{"p":18,"a":44,"s":0.982},{"p":18,"a":45,"s":0.982},{"p":18,"a":46,"s":0.982},{"p":18,"a":47,"s":0.982},{"p":18,"a":48,"s":0.982},
{"p":19,"a":1,"s":0},{"p":19,"a":2,"s":0},{"p":19,"a":3,"s":0},{"p":19,"a":4,"s":0},{"p":19,"a":5,"s":0},{"p":19,"a":6,"s":0},{"p":19,"a":7,"s":0},{"p":19,"a":8,"s":0},{"p":19,"a":9,"s":0},{"p":19,"a":10,"s":0},{"p":19,"a":11,"s":0},{"p":19,"a":12,"s":0.01},{"p":19,"a":13,"s":0.035},{"p":19,"a":14,"s":0.1},{"p":19,"a":15,"s":0.25},{"p":19,"a":16,"s":0.43},{"p":19,"a":17,"s":0.61},{"p":19,"a":18,"s":0.73},{"p":19,"a":19,"s":0.8},{"p":19,"a":20,"s":0.855},{"p":19,"a":21,"s":0.91},{"p":19,"a":22,"s":0.95},{"p":19,"a":23,"s":0.975},{"p":19,"a":24,"s":0.988},{"p":19,"a":25,"s":0.995},{"p":19,"a":26,"s":0.998},{"p":19,"a":27,"s":1},{"p":19,"a":28,"s":1},{"p":19,"a":29,"s":0.995},{"p":19,"a":30,"s":0.99},{"p":19,"a":31,"s":0.987},{"p":19,"a":32,"s":0.985},{"p":19,"a":33,"s":0.983},{"p":19,"a":34,"s":0.98},{"p":19,"a":35,"s":0.98},{"p":19,"a":36,"s":0.98},{"p":19,"a":37,"s":0.98},{"p":19,"a":38,"s":0.98},{"p":19,"a":39,"s":0.98},{"p":19,"a":40,"s":0.98},{"p":19,"a":41,"s":0.98},{"p":19,"a":42,"s":0.98},{"p":19,"a":43,"s":0.98},{"p":19,"a":44,"s":0.98},{"p":19,"a":45,"s":0.98},{"p":19,"a":46,"s":0.98},{"p":19,"a":47,"s":0.98},{"p":19,"a":48,"s":0.98},
{"p":20,"a":1,"s":0},{"p":20,"a":2,"s":0},{"p":20,"a":3,"s":0.09},{"p":20,"a":4,"s":0.18},{"p":20,"a":5,"s":0.41},{"p":20,"a":6,"s":0.93},{"p":20,"a":7,"s":1},{"p":20,"a":8,"s":0.69},{"p":20,"a":9,"s":0.31},{"p":20,"a":10,"s":0.16},{"p":20,"a":11,"s":0.095},{"p":20,"a":12,"s":0.05},{"p":20,"a":13,"s":0.028},{"p":20,"a":14,"s":0.02},{"p":20,"a":15,"s":0.018},{"p":20,"a":16,"s":0.016},{"p":20,"a":17,"s":0.014},{"p":20,"a":18,"s":0.014},{"p":20,"a":19,"s":0.014},{"p":20,"a":20,"s":0.014},{"p":20,"a":21,"s":0.014},{"p":20,"a":22,"s":0.014},{"p":20,"a":23,"s":0.004},{"p":20,"a":24,"s":0.004},{"p":20,"a":25,"s":0.004},{"p":20,"a":26,"s":0.004},{"p":20,"a":27,"s":0.004},{"p":20,"a":28,"s":0.004},{"p":20,"a":29,"s":0.004},{"p":20,"a":30,"s":0.004},{"p":20,"a":31,"s":0.004},{"p":20,"a":32,"s":0.004},{"p":20,"a":33,"s":0.004},{"p":20,"a":34,"s":0.004},{"p":20,"a":35,"s":0.004},{"p":20,"a":36,"s":0.004},{"p":20,"a":37,"s":0.004},{"p":20,"a":38,"s":0.004},{"p":20,"a":39,"s":0.004},{"p":20,"a":40,"s":0.004},{"p":20,"a":41,"s":0.004},{"p":20,"a":42,"s":0.004},{"p":20,"a":43,"s":0.004},{"p":20,"a":44,"s":0.004},{"p":20,"a":45,"s":0.004},{"p":20,"a":46,"s":0.004},{"p":20,"a":47,"s":0.004},{"p":20,"a":48,"s":0.004},
{"p":21,"a":1,"s":0},{"p":21,"a":2,"s":0},{"p":21,"a":3,"s":0.005},{"p":21,"a":4,"s":0.025},{"p":21,"a":5,"s":0.13},{"p":21,"a":6,"s":0.62},{"p":21,"a":7,"s":1},{"p":21,"a":8,"s":0.9},{"p":21,"a":9,"s":0.5},{"p":21,"a":10,"s":0.23},{"p":21,"a":11,"s":0.12},{"p":21,"a":12,"s":0.065},{"p":21,"a":13,"s":0.035},{"p":21,"a":14,"s":0.02},{"p":21,"a":15,"s":0.008},{"p":21,"a":16,"s":0.003},{"p":21,"a":17,"s":0.001},{"p":21,"a":18,"s":0.001},{"p":21,"a":19,"s":0.001},{"p":21,"a":20,"s":0.001},{"p":21,"a":21,"s":0.001},{"p":21,"a":22,"s":0.001},{"p":21,"a":23,"s":0.001},{"p":21,"a":24,"s":0.001},{"p":21,"a":25,"s":0.001},{"p":21,"a":26,"s":0.001},{"p":21,"a":27,"s":0.001},{"p":21,"a":28,"s":0.001},{"p":21,"a":29,"s":0.001},{"p":21,"a":30,"s":0.001},{"p":21,"a":31,"s":0.001},{"p":21,"a":32,"s":0.001},{"p":21,"a":33,"s":0.001},{"p":21,"a":34,"s":0.001},{"p":21,"a":35,"s":0.001},{"p":21,"a":36,"s":0.001},{"p":21,"a":37,"s":0.001},{"p":21,"a":38,"s":0.001},{"p":21,"a":39,"s":0.001},{"p":21,"a":40,"s":0.001},{"p":21,"a":41,"s":0.001},{"p":21,"a":42,"s":0.001},{"p":21,"a":43,"s":0.001},{"p":21,"a":44,"s":0.001},{"p":21,"a":45,"s":0.001},{"p":21,"a":46,"s":0.001},{"p":21,"a":47,"s":0.001},{"p":21,"a":48,"s":0.001}
]},
"vconcat": [{
"title": {"text": "Age-class (quarters)", "orient": "bottom", "anchor": "middle", "font": "Open Sans", "fontSize": 21, "fontWeight": "normal", "color": "#555555", "offset": 4, "dx": 16},
"spacing": 1.5,
"hconcat": [
{
"transform": [{"lookup": "p", "from": {"data": {"name": "panels"}, "key": "p", "fields": ["panel", "group"]}}, {"filter": {"field": "p", "oneOf": [1, 6, 11, 16, 21]}}],
"facet": {"field": "p", "type": "ordinal", "header": {"labels": false, "title": null, "labelFontSize": 0, "labelPadding": 0, "labelExpr": "''"}},
"columns": 1, "spacing": 10.7,
"spec": {"width": 385, "height": 257, "layer": [
 {"mark": {"type": "area", "stroke": "#808080", "strokeWidth": 1},
  "encoding": {
   "x": {"field": "a", "type": "quantitative", "title": null, "scale": {"domain": [-1.35, 50.35], "nice": false, "zero": false},
     "axis": {"values": [0,5,10,15,20,25,30,35,40,45,50], "labelExpr": "datum.value % 10 === 0 ? datum.label : ''", "labelFlush": false, "labelOverlap": false,
       "tickColor": {"condition": {"test": "datum.value % 10 === 0", "value": "#333333"}, "value": "transparent"},
       "gridColor": {"condition": {"test": "datum.value % 10 === 0", "value": "transparent"}, "value": "#ebebeb"}}},
   "y": {"field": "s", "type": "quantitative", "title": null, "scale": {"domain": [-0.05, 1.253], "nice": false, "zero": false},
     "axis": {"values": [0, 0.25, 0.5, 0.75, 1], "labelExpr": "(datum.value * 2) % 1 === 0 ? format(datum.value, '.1f') : ''", "labelOverlap": false, "labelFlush": false,
       "tickColor": {"condition": {"test": "(datum.value * 2) % 1 === 0", "value": "#333333"}, "value": "transparent"},
       "gridColor": {"condition": {"test": "(datum.value * 2) % 1 === 0", "value": "transparent"}, "value": "#ebebeb"}}},
   "color": {"field": "group", "type": "nominal",
     "scale": {"domain": ["1","2","3","4","5","6","7","8","9","10","11","12","13","14","15","16","17","18","19","20","21"],
       "range": ["#e0f3db","#ccebc5","#a8ddb5","#7bccc4","#4eb3d3","#2b8cbe","#0868ac","#084081","#e0f3db","#ccebc5","#a8ddb5","#7bccc4","#4eb3d3","#2b8cbe","#0868ac","#084081","#e0f3db","#ccebc5","#a8ddb5","#7bccc4","#4eb3d3"]},
     "legend": {"title": "Grouping (#24)", "orient": "none", "legendX": 1997, "legendY": 484, "columns": 2, "symbolType": "square", "symbolSize": 961,
       "symbolStrokeColor": "#a0a0a0", "symbolStrokeWidth": 1.5, "symbolOpacity": 1, "rowPadding": -3, "columnPadding": 4, "labelOffset": 6,
       "labelFont": "Open Sans", "labelFontSize": 16, "labelColor": "#333333", "titleFont": "Open Sans", "titleFontSize": 21, "titleFontWeight": "normal", "titleColor": "#333333", "titlePadding": 4}}}},
 {"transform": [{"filter": "datum.a === 1"}], "mark": {"type": "rect", "fill": "#708090"},
  "encoding": {"x": {"datum": -1.35}, "x2": {"datum": 50.35}, "y": {"datum": 1.05}, "y2": {"datum": 1.253}}},
 {"transform": [{"filter": "datum.a === 1"}], "mark": {"type": "text", "font": "Open Sans", "fontSize": 23, "color": "#ebebeb", "baseline": "middle", "align": "center"},
  "encoding": {"x": {"datum": 24.5}, "y": {"datum": 1.1515}, "text": {"field": "panel"}}},
 {"transform": [{"filter": "datum.a === 1"}], "mark": {"type": "rect", "fill": null, "stroke": "#333333", "strokeWidth": 1.2},
  "encoding": {"x": {"datum": -1.35}, "x2": {"datum": 50.35}, "y": {"datum": -0.05}, "y2": {"datum": 1.05}}}
]}
},
{
"transform": [{"lookup": "p", "from": {"data": {"name": "panels"}, "key": "p", "fields": ["panel", "group"]}}, {"filter": {"field": "p", "oneOf": [2, 7, 12, 17]}}],
"facet": {"field": "p", "type": "ordinal", "header": {"labels": false, "title": null, "labelFontSize": 0, "labelPadding": 0, "labelExpr": "''"}},
"columns": 1, "spacing": 10.7,
"spec": {"width": 385, "height": 257, "layer": [
 {"mark": {"type": "area", "stroke": "#808080", "strokeWidth": 1},
  "encoding": {
   "x": {"field": "a", "type": "quantitative", "title": null, "scale": {"domain": [-1.35, 50.35], "nice": false, "zero": false},
     "axis": {"values": [0,5,10,15,20,25,30,35,40,45,50], "labelExpr": "datum.value % 10 === 0 ? datum.label : ''", "labelFlush": false, "labelOverlap": false,
       "tickColor": {"condition": {"test": "datum.value % 10 === 0", "value": "#333333"}, "value": "transparent"},
       "gridColor": {"condition": {"test": "datum.value % 10 === 0", "value": "transparent"}, "value": "#ebebeb"}}},
   "y": {"field": "s", "type": "quantitative", "title": null, "scale": {"domain": [-0.05, 1.253], "nice": false, "zero": false},
     "axis": {"values": [0, 0.25, 0.5, 0.75, 1], "labels": false, "ticks": false,
       "gridColor": {"condition": {"test": "(datum.value * 2) % 1 === 0", "value": "transparent"}, "value": "#ebebeb"}}},
   "color": {"field": "group", "type": "nominal"}}},
 {"transform": [{"filter": "datum.a === 1"}], "mark": {"type": "rect", "fill": "#708090"},
  "encoding": {"x": {"datum": -1.35}, "x2": {"datum": 50.35}, "y": {"datum": 1.05}, "y2": {"datum": 1.253}}},
 {"transform": [{"filter": "datum.a === 1"}], "mark": {"type": "text", "font": "Open Sans", "fontSize": 23, "color": "#ebebeb", "baseline": "middle", "align": "center"},
  "encoding": {"x": {"datum": 24.5}, "y": {"datum": 1.1515}, "text": {"field": "panel"}}},
 {"transform": [{"filter": "datum.a === 1"}], "mark": {"type": "rect", "fill": null, "stroke": "#333333", "strokeWidth": 1.2},
  "encoding": {"x": {"datum": -1.35}, "x2": {"datum": 50.35}, "y": {"datum": -0.05}, "y2": {"datum": 1.05}}}
]}
},
{
"transform": [{"lookup": "p", "from": {"data": {"name": "panels"}, "key": "p", "fields": ["panel", "group"]}}, {"filter": {"field": "p", "oneOf": [3, 8, 13, 18]}}],
"facet": {"field": "p", "type": "ordinal", "header": {"labels": false, "title": null, "labelFontSize": 0, "labelPadding": 0, "labelExpr": "''"}},
"columns": 1, "spacing": 10.7,
"spec": {"width": 385, "height": 257, "layer": [
 {"mark": {"type": "area", "stroke": "#808080", "strokeWidth": 1},
  "encoding": {
   "x": {"field": "a", "type": "quantitative", "title": null, "scale": {"domain": [-1.35, 50.35], "nice": false, "zero": false},
     "axis": {"values": [0,5,10,15,20,25,30,35,40,45,50], "labelExpr": "datum.value % 10 === 0 ? datum.label : ''", "labelFlush": false, "labelOverlap": false,
       "tickColor": {"condition": {"test": "datum.value % 10 === 0", "value": "#333333"}, "value": "transparent"},
       "gridColor": {"condition": {"test": "datum.value % 10 === 0", "value": "transparent"}, "value": "#ebebeb"}}},
   "y": {"field": "s", "type": "quantitative", "title": null, "scale": {"domain": [-0.05, 1.253], "nice": false, "zero": false},
     "axis": {"values": [0, 0.25, 0.5, 0.75, 1], "labels": false, "ticks": false,
       "gridColor": {"condition": {"test": "(datum.value * 2) % 1 === 0", "value": "transparent"}, "value": "#ebebeb"}}},
   "color": {"field": "group", "type": "nominal"}}},
 {"transform": [{"filter": "datum.a === 1"}], "mark": {"type": "rect", "fill": "#708090"},
  "encoding": {"x": {"datum": -1.35}, "x2": {"datum": 50.35}, "y": {"datum": 1.05}, "y2": {"datum": 1.253}}},
 {"transform": [{"filter": "datum.a === 1"}], "mark": {"type": "text", "font": "Open Sans", "fontSize": 23, "color": "#ebebeb", "baseline": "middle", "align": "center"},
  "encoding": {"x": {"datum": 24.5}, "y": {"datum": 1.1515}, "text": {"field": "panel"}}},
 {"transform": [{"filter": "datum.a === 1"}], "mark": {"type": "rect", "fill": null, "stroke": "#333333", "strokeWidth": 1.2},
  "encoding": {"x": {"datum": -1.35}, "x2": {"datum": 50.35}, "y": {"datum": -0.05}, "y2": {"datum": 1.05}}}
]}
},
{
"transform": [{"lookup": "p", "from": {"data": {"name": "panels"}, "key": "p", "fields": ["panel", "group"]}}, {"filter": {"field": "p", "oneOf": [4, 9, 14, 19]}}],
"facet": {"field": "p", "type": "ordinal", "header": {"labels": false, "title": null, "labelFontSize": 0, "labelPadding": 0, "labelExpr": "''"}},
"columns": 1, "spacing": 10.7,
"spec": {"width": 385, "height": 257, "layer": [
 {"mark": {"type": "area", "stroke": "#808080", "strokeWidth": 1},
  "encoding": {
   "x": {"field": "a", "type": "quantitative", "title": null, "scale": {"domain": [-1.35, 50.35], "nice": false, "zero": false},
     "axis": {"values": [0,5,10,15,20,25,30,35,40,45,50], "labelExpr": "datum.value % 10 === 0 ? datum.label : ''", "labelFlush": false, "labelOverlap": false,
       "tickColor": {"condition": {"test": "datum.value % 10 === 0", "value": "#333333"}, "value": "transparent"},
       "gridColor": {"condition": {"test": "datum.value % 10 === 0", "value": "transparent"}, "value": "#ebebeb"}}},
   "y": {"field": "s", "type": "quantitative", "title": null, "scale": {"domain": [-0.05, 1.253], "nice": false, "zero": false},
     "axis": {"values": [0, 0.25, 0.5, 0.75, 1], "labels": false, "ticks": false,
       "gridColor": {"condition": {"test": "(datum.value * 2) % 1 === 0", "value": "transparent"}, "value": "#ebebeb"}}},
   "color": {"field": "group", "type": "nominal"}}},
 {"transform": [{"filter": "datum.a === 1"}], "mark": {"type": "rect", "fill": "#708090"},
  "encoding": {"x": {"datum": -1.35}, "x2": {"datum": 50.35}, "y": {"datum": 1.05}, "y2": {"datum": 1.253}}},
 {"transform": [{"filter": "datum.a === 1"}], "mark": {"type": "text", "font": "Open Sans", "fontSize": 23, "color": "#ebebeb", "baseline": "middle", "align": "center"},
  "encoding": {"x": {"datum": 24.5}, "y": {"datum": 1.1515}, "text": {"field": "panel"}}},
 {"transform": [{"filter": "datum.a === 1"}], "mark": {"type": "rect", "fill": null, "stroke": "#333333", "strokeWidth": 1.2},
  "encoding": {"x": {"datum": -1.35}, "x2": {"datum": 50.35}, "y": {"datum": -0.05}, "y2": {"datum": 1.05}}}
]}
},
{
"transform": [{"lookup": "p", "from": {"data": {"name": "panels"}, "key": "p", "fields": ["panel", "group"]}}, {"filter": {"field": "p", "oneOf": [5, 10, 15, 20]}}],
"facet": {"field": "p", "type": "ordinal", "header": {"labels": false, "title": null, "labelFontSize": 0, "labelPadding": 0, "labelExpr": "''"}},
"columns": 1, "spacing": 10.7,
"spec": {"width": 385, "height": 257, "layer": [
 {"mark": {"type": "area", "stroke": "#808080", "strokeWidth": 1},
  "encoding": {
   "x": {"field": "a", "type": "quantitative", "title": null, "scale": {"domain": [-1.35, 50.35], "nice": false, "zero": false},
     "axis": {"values": [0,5,10,15,20,25,30,35,40,45,50], "labelExpr": "datum.value % 10 === 0 ? datum.label : ''", "labelFlush": false, "labelOverlap": false,
       "tickColor": {"condition": {"test": "datum.value % 10 === 0", "value": "#333333"}, "value": "transparent"},
       "gridColor": {"condition": {"test": "datum.value % 10 === 0", "value": "transparent"}, "value": "#ebebeb"}}},
   "y": {"field": "s", "type": "quantitative", "title": null, "scale": {"domain": [-0.05, 1.253], "nice": false, "zero": false},
     "axis": {"values": [0, 0.25, 0.5, 0.75, 1], "labels": false, "ticks": false,
       "gridColor": {"condition": {"test": "(datum.value * 2) % 1 === 0", "value": "transparent"}, "value": "#ebebeb"}}},
   "color": {"field": "group", "type": "nominal"}}},
 {"transform": [{"filter": "datum.a === 1"}], "mark": {"type": "rect", "fill": "#708090"},
  "encoding": {"x": {"datum": -1.35}, "x2": {"datum": 50.35}, "y": {"datum": 1.05}, "y2": {"datum": 1.253}}},
 {"transform": [{"filter": "datum.a === 1"}], "mark": {"type": "text", "font": "Open Sans", "fontSize": 23, "color": "#ebebeb", "baseline": "middle", "align": "center"},
  "encoding": {"x": {"datum": 24.5}, "y": {"datum": 1.1515}, "text": {"field": "panel"}}},
 {"transform": [{"filter": "datum.a === 1"}], "mark": {"type": "rect", "fill": null, "stroke": "#333333", "strokeWidth": 1.2},
  "encoding": {"x": {"datum": -1.35}, "x2": {"datum": 50.35}, "y": {"datum": -0.05}, "y2": {"datum": 1.05}}}
]}
}
]
}]
}
